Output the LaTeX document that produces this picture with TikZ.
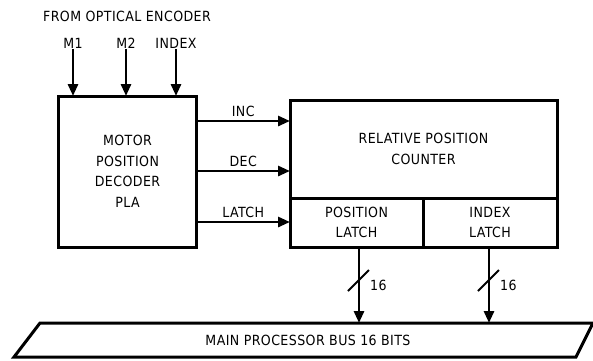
\documentclass[tikz,border=0pt]{standalone}
\usepackage{fontspec}
\setmainfont{DejaVu Sans Condensed}[LetterSpace=3]
\usepackage{tikz}
\usetikzlibrary{arrows.meta,positioning,calc}
\tikzset{
  blockbox/.style={
    rectangle, draw=black, line width=3pt, inner sep=0pt, outer sep=0pt,
    align=center, font=\fontsize{14}{20.5}\selectfont
  },
  sigarrow/.style={-{Triangle[length=12pt,width=10pt]}, line width=2.8pt},
  siglabel/.style={font=\fontsize{14}{16}\selectfont, inner sep=1pt}
}

\begin{document}
\begin{tikzpicture}[x=1pt, y=-1pt]
  \useasboundingbox (0,0) rectangle (593,360);

  % decoder and counter blocks
  \node[blockbox, minimum width=138pt, minimum height=151pt] (dec) at (127.5,171.5)
        {MOTOR\\POSITION\\DECODER\\PLA};
  \node[blockbox, minimum width=267pt, minimum height=98pt] (cnt) at (423.5,149)
        {RELATIVE POSITION\\COUNTER};
  \node[blockbox, minimum width=133pt, minimum height=49pt, anchor=north west] (pl)
        at (cnt.south west) {POSITION\\LATCH};
  \node[blockbox, minimum width=134pt, minimum height=49pt, anchor=north west] (il)
        at (pl.north east) {INDEX\\LATCH};

  % encoder inputs
  \node[siglabel] (enc) at (127,16) {FROM OPTICAL ENCODER};
  \node[siglabel] (m1) at (73,43)  {M1};
  \node[siglabel] (m2) at (126,43) {M2};
  \node[siglabel] (ix) at (176,43) {INDEX};
  \foreach \s in {m1,m2,ix}
    \draw[sigarrow] (\s.south) -- (\s.south |- dec.north);

  % decoder outputs
  \coordinate (inc) at (dec.east |- 0,121);
  \coordinate (dcr) at (dec.east |- 0,171);
  \coordinate (lat) at (dec.east |- 0,222);
  \draw[sigarrow] (inc) -- node[siglabel, above=2pt]{INC}   (inc -| cnt.west);
  \draw[sigarrow] (dcr) -- node[siglabel, above=2pt]{DEC}   (dcr -| cnt.west);
  \draw[sigarrow] (lat) -- node[siglabel, above=2pt]{LATCH} (lat -| pl.west);

  % processor bus
  \node[siglabel] (bus) at (308,340) {MAIN PROCESSOR BUS 16 BITS};
  \coordinate (btl) at (40,323);
  \coordinate (btr) at (593,323);
  \coordinate (bbr) at (576,357);
  \coordinate (bbl) at (14,357);
  \draw[line width=3pt, line join=miter] (btl) -- (btr) -- (bbr) -- (bbl) -- cycle;

  % 16 bit buses
  \foreach \s/\x in {pl/359,il/489}{
    \coordinate (\s t) at (\x,248);
    \draw[sigarrow] (\s t) -- (\s t |- btl);
    \draw[line width=1.8pt] ($(\s t)+(-11,43)$) -- ++(21,-21);
    \node[siglabel, anchor=west] at ($(\s t)+(10,37)$) {16};
  }
\end{tikzpicture}
\end{document}
